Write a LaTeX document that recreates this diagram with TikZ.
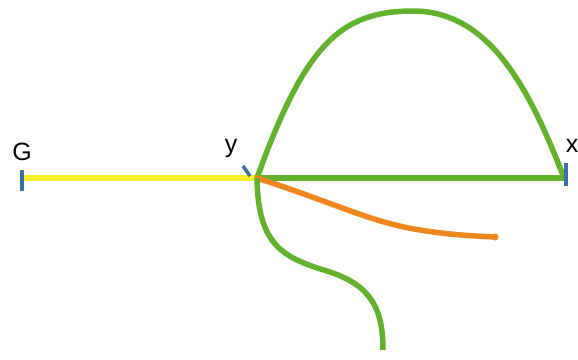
\documentclass[tikz,border=0pt]{standalone}
\usepackage{fontspec}
\setmainfont{Liberation Sans}
\definecolor{lgreen}{RGB}{98,178,46}
\definecolor{lyellow}{RGB}{246,240,40}
\definecolor{lorange}{RGB}{240,135,30}
\definecolor{lblue}{RGB}{60,110,165}
\begin{document}
\begin{tikzpicture}[x=1pt,y=-1pt,
  lbl/.style={inner sep=0pt, font=\fontsize{25}{30}\selectfont},
  stroke/.style={line width=5.5pt},
  tick/.style={line width=3.5pt, lblue}]
\useasboundingbox (0,0) rectangle (578,359);
% points
\coordinate (G) at (22,178);
\coordinate (Y) at (257,178);
\coordinate (X) at (564,178);
\coordinate (top) at (413,11);
\coordinate (oend) at (495,237);
\coordinate (send) at (383,350);
% labels
\node[lbl] (gl) at (22,152) {G};
\node[lbl] (yl) at (231,148) {y};
\node[lbl] (xl) at (572,146) {x};
% lines
\draw[stroke, lyellow] (G) -- (Y);
\draw[stroke, lgreen] (Y) -- (X);
\draw[stroke, lgreen, line cap=round] (Y) .. controls (305,45) and (340,11) .. (top) .. controls (490,11) and (530,90) .. (X);
\draw[stroke, lorange, line cap=round] (Y) .. controls (340,205) and (370,222) .. (420,230) .. controls (450,235) and (475,236) .. (oend);
\fill[lorange] (oend) circle (3.5pt);
\draw[stroke, lgreen] (Y) .. controls (258,248) and (285,258) .. (330,272) .. controls (372,286) and (383,310) .. (send);
% ticks
\draw[tick] (22,170) -- (22,191);
\draw[tick] (566,163) -- (566,186);
\draw[tick] (243,166) -- (250,176);
\end{tikzpicture}
\end{document}
